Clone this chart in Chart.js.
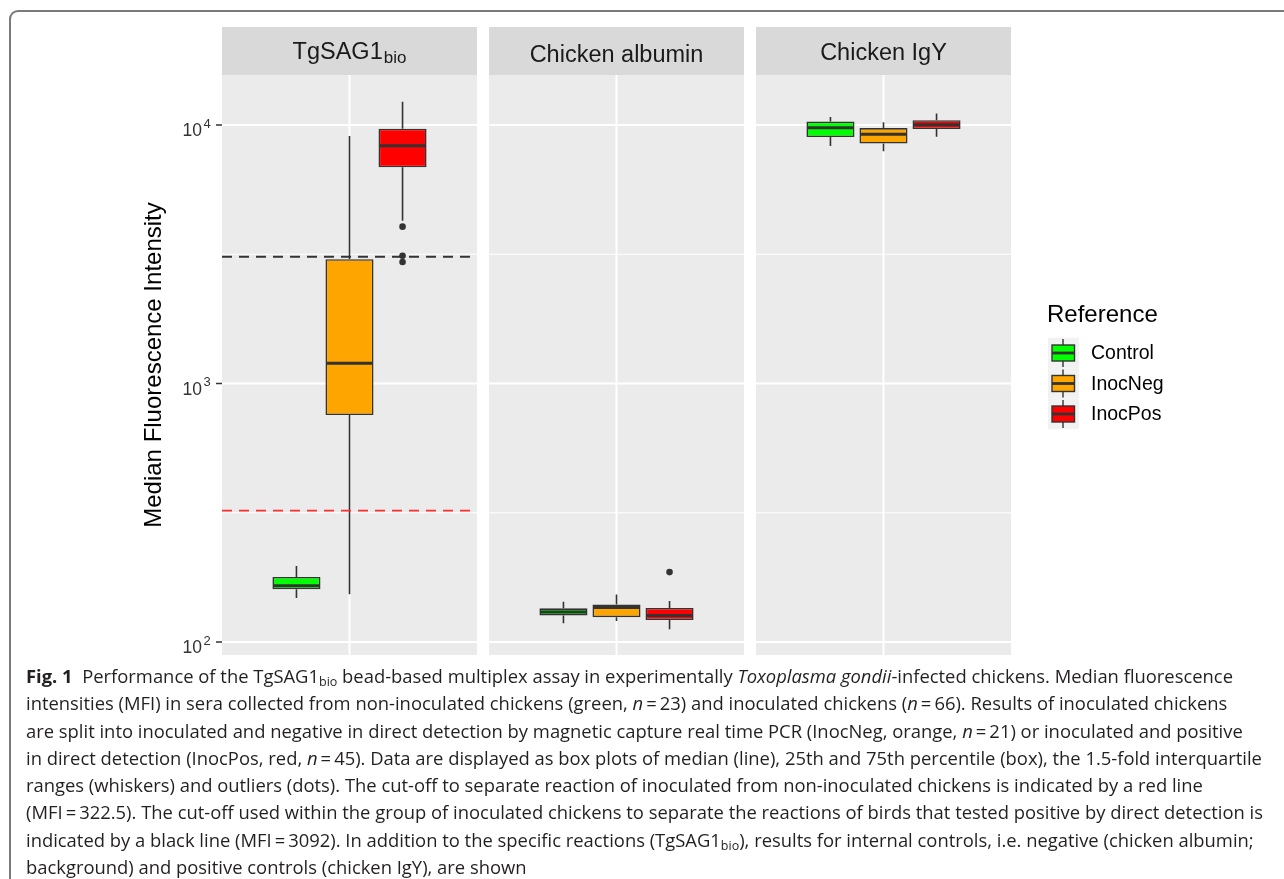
<!DOCTYPE html>
<html>
<head>
<meta charset="utf-8">
<script src="https://cdn.jsdelivr.net/npm/chart.js@4.4.1/dist/chart.umd.min.js"></script>
<style>
  html, body { margin: 0; padding: 0; background: #fff; }
  body { width: 1284px; height: 879px; position: relative; overflow: hidden; }
  #frame {
    position: absolute; left: 9px; top: 10px; width: 1300px; height: 900px;
    border-top: 2px solid #7a7a7a; border-left: 2px solid #7a7a7a;
    border-top-left-radius: 9px;
  }
  #wrap { position: absolute; left: 0; top: 0; width: 1284px; height: 665px; }
  #caption {
    position: absolute; left: 26px; top: 662px;
    font-family: "Open Sans", "Noto Sans", sans-serif; font-size: 18.4px; line-height: 27.3px;
    color: #231f20; white-space: nowrap;
  }
  #caption sub { font-size: 12.5px; vertical-align: -3px; line-height: 0; }
  #caption b { font-weight: 700; }
</style>
</head>
<body>
<div id="frame"></div>
<div id="wrap"><canvas id="chart" width="1284" height="665"></canvas></div>
<div id="caption">
  <div><b>Fig. 1</b>&nbsp;&nbsp;Performance of the TgSAG1<sub>bio</sub> bead-based multiplex assay in experimentally <i>Toxoplasma gondii</i>-infected chickens. Median fluorescence</div>
  <div>intensities (MFI) in sera collected from non-inoculated chickens (green, <i>n</i>&thinsp;=&thinsp;23) and inoculated chickens (<i>n</i>&thinsp;=&thinsp;66). Results of inoculated chickens</div>
  <div>are split into inoculated and negative in direct detection by magnetic capture real time PCR (InocNeg, orange, <i>n</i>&thinsp;=&thinsp;21) or inoculated and positive</div>
  <div>in direct detection (InocPos, red, <i>n</i>&thinsp;=&thinsp;45). Data are displayed as box plots of median (line), 25th and 75th percentile (box), the 1.5-fold interquartile</div>
  <div>ranges (whiskers) and outliers (dots). The cut-off to separate reaction of inoculated from non-inoculated chickens is indicated by a red line</div>
  <div>(MFI&thinsp;=&thinsp;322.5). The cut-off used within the group of inoculated chickens to separate the reactions of birds that tested positive by direct detection is</div>
  <div>indicated by a black line (MFI&thinsp;=&thinsp;3092). In addition to the specific reactions (TgSAG1<sub>bio</sub>), results for internal controls, i.e. negative (chicken albumin;</div>
  <div>background) and positive controls (chicken IgY), are shown</div>
</div>
<script>
// facets and groups
const facets = ['TgSAG1', 'Chicken albumin', 'Chicken IgY'];
const facetSubs = ['bio', '', ''];
const groups = ['Control', 'InocNeg', 'InocPos'];
const groupColors = ['#00ff00', '#ffa500', '#ff0000'];

// [lower whisker, Q1, median, Q3, upper whisker] per facet
const controlStats = [[148, 160, 165, 178.5, 197], [118.3, 126.6, 130.6, 135, 143.2], [8294, 8987, 9758, 10307, 10730]];
const inocNegStats = [[153, 755, 1197, 3024, 9066], [120.6, 124.7, 136, 139.7, 152.7], [7917, 8472, 9205, 9728, 10248]];
const inocPosStats = [[4262, 6860, 8314, 9676, 12310], [112, 121.6, 126.6, 135.5, 144.1], [9010, 9639, 10030, 10437, 11066]];

const controlOutliers = [[], [], []];
const inocNegOutliers = [[], [], []];
const inocPosOutliers = [[4043, 3121, 2951], [186.4], []];

// cut-offs drawn in the first facet
const cutoffValues = [3092, 322.5];
const cutoffColors = ['#333333', '#ff2e2e'];

const yTicks = [100, 1000, 10000];
const yMinorTicks = [316.2, 3162];
const yTitle = 'Median Fluorescence Intensity';
const legendTitle = 'Reference';

const allStats = [controlStats, inocNegStats, inocPosStats];
const allOutliers = [controlOutliers, inocNegOutliers, inocPosOutliers];

const stripTop = 27;
const panelGap = 12;
const ink = '#333333';
const font = 'Liberation Sans, Arial, sans-serif';

function panelHalf(x) {
    return (x.width / facets.length - panelGap) / 2;
}

const facetPlugin = {
    id: 'facets',
    beforeDatasetsDraw(chart) {
        const { ctx, chartArea: a, scales: { x, y } } = chart;
        const half = panelHalf(x);
        ctx.save();
        facets.forEach((f, i) => {
            const cx = x.getPixelForValue(i);
            ctx.fillStyle = '#d9d9d9';
            ctx.fillRect(cx - half, stripTop, 2 * half, a.top - stripTop);
            ctx.fillStyle = '#ebebeb';
            ctx.fillRect(cx - half, a.top, 2 * half, a.bottom - a.top);

            ctx.strokeStyle = '#ffffff';
            ctx.lineWidth = 1;
            yMinorTicks.forEach(v => {
                const py = y.getPixelForValue(v);
                ctx.beginPath(); ctx.moveTo(cx - half, py); ctx.lineTo(cx + half, py); ctx.stroke();
            });
            ctx.lineWidth = 2;
            yTicks.forEach(v => {
                const py = y.getPixelForValue(v);
                ctx.beginPath(); ctx.moveTo(cx - half, py); ctx.lineTo(cx + half, py); ctx.stroke();
            });
            ctx.beginPath(); ctx.moveTo(cx, a.top); ctx.lineTo(cx, a.bottom); ctx.stroke();
        });

        // whiskers behind the boxes
        ctx.strokeStyle = ink;
        ctx.lineWidth = 1.6;
        allStats.forEach((stats, d) => {
            const meta = chart.getDatasetMeta(d);
            stats.forEach((s, i) => {
                const bx = meta.data[i].x;
                ctx.beginPath();
                ctx.moveTo(bx, y.getPixelForValue(s[0])); ctx.lineTo(bx, y.getPixelForValue(s[1]));
                ctx.moveTo(bx, y.getPixelForValue(s[3])); ctx.lineTo(bx, y.getPixelForValue(s[4]));
                ctx.stroke();
            });
        });
        ctx.restore();
    },
    afterDatasetsDraw(chart) {
        const { ctx, chartArea: a, scales: { x, y } } = chart;
        const half = panelHalf(x);
        ctx.save();

        // medians and outliers
        allStats.forEach((stats, d) => {
            const meta = chart.getDatasetMeta(d);
            stats.forEach((s, i) => {
                const el = meta.data[i];
                const py = y.getPixelForValue(s[2]);
                ctx.strokeStyle = ink;
                ctx.lineWidth = 3;
                ctx.beginPath(); ctx.moveTo(el.x - el.width / 2 + 0.6, py); ctx.lineTo(el.x + el.width / 2 - 0.6, py); ctx.stroke();
                ctx.fillStyle = ink;
                allOutliers[d][i].forEach(v => {
                    ctx.beginPath(); ctx.arc(el.x, y.getPixelForValue(v), 3.3, 0, Math.PI * 2); ctx.fill();
                });
            });
        });

        // cut-off lines in first facet
        const c0 = x.getPixelForValue(0);
        ctx.lineWidth = 1.8;
        ctx.setLineDash([10, 7]);
        cutoffValues.forEach((v, k) => {
            const py = y.getPixelForValue(v);
            ctx.strokeStyle = cutoffColors[k];
            ctx.beginPath(); ctx.moveTo(c0 - half, py); ctx.lineTo(c0 + half, py); ctx.stroke();
        });
        ctx.setLineDash([]);

        // strip labels
        ctx.fillStyle = '#1a1a1a';
        facets.forEach((f, i) => {
            const cx = x.getPixelForValue(i);
            ctx.font = '23.5px ' + font;
            if (facetSubs[i]) {
                const w1 = ctx.measureText(f).width;
                ctx.font = '17px ' + font;
                const w2 = ctx.measureText(facetSubs[i]).width;
                const left = cx - (w1 + w2 + 1) / 2;
                ctx.textAlign = 'left';
                ctx.fillText(facetSubs[i], left + w1 + 1, 63);
                ctx.font = '23.5px ' + font;
                ctx.fillText(f, left, 59);
            } else {
                ctx.textAlign = 'center';
                ctx.fillText(f, cx, i === 1 ? 61.5 : 59.5);
            }
        });

        // y axis ticks and labels
        const left = c0 - half;
        ctx.strokeStyle = ink;
        ctx.lineWidth = 1.5;
        yTicks.forEach(v => {
            const py = y.getPixelForValue(v);
            ctx.beginPath(); ctx.moveTo(left - 6, py); ctx.lineTo(left, py); ctx.stroke();
            ctx.fillStyle = ink;
            ctx.font = '17.5px ' + font;
            ctx.textAlign = 'right';
            ctx.fillText('10', 202, py + 11);
            ctx.font = '13px ' + font;
            ctx.textAlign = 'left';
            ctx.fillText(String(Math.round(Math.log10(v))), 203.5, py + 2.8);
        });

        // y axis title
        ctx.fillStyle = '#000000';
        ctx.font = '24px ' + font;
        ctx.textAlign = 'center';
        ctx.translate(160.5, (a.top + a.bottom) / 2);
        ctx.rotate(-Math.PI / 2);
        ctx.fillText(yTitle, 0, 0);
        ctx.restore();

        // legend
        ctx.save();
        ctx.fillStyle = '#000000';
        ctx.font = '24px ' + font;
        ctx.textAlign = 'left';
        ctx.fillText(legendTitle, 1047, 322);
        groups.forEach((g, i) => {
            const cy = 353 + 30.5 * i;
            ctx.fillStyle = '#f2f2f2';
            ctx.fillRect(1048, cy - 15.25, 31, 30.5);
            ctx.strokeStyle = ink;
            ctx.lineWidth = 1.4;
            ctx.beginPath(); ctx.moveTo(1063, cy - 14); ctx.lineTo(1063, cy + 14); ctx.stroke();
            ctx.fillStyle = groupColors[i];
            ctx.fillRect(1052, cy - 8, 22.5, 16);
            ctx.strokeRect(1052, cy - 8, 22.5, 16);
            ctx.lineWidth = 2.8;
            ctx.beginPath(); ctx.moveTo(1052, cy); ctx.lineTo(1074.5, cy); ctx.stroke();
            ctx.fillStyle = '#000000';
            ctx.font = '19.5px ' + font;
            ctx.textBaseline = 'middle';
            ctx.fillText(g, 1091, cy + 1);
            ctx.textBaseline = 'alphabetic';
        });
        ctx.restore();
    }
};

const chart = new Chart(document.getElementById('chart').getContext('2d'), {
    type: 'bar',
    data: {
        labels: facets,
        datasets: groups.map((g, d) => ({
            label: g,
            data: allStats[d].map(s => [s[1], s[3]]),
            backgroundColor: groupColors[d],
            borderColor: ink,
            borderWidth: 1.6,
            borderSkipped: false,
            categoryPercentage: 0.596,
            barPercentage: 0.906
        }))
    },
    options: {
        responsive: false,
        animation: false,
        devicePixelRatio: 1,
        layout: { padding: { left: 216, right: 267, top: 75, bottom: 10 } },
        plugins: { legend: { display: false }, tooltip: { enabled: false } },
        scales: {
            x: { display: false, grid: { display: false } },
            y: { type: 'logarithmic', display: false, min: 89.07, max: 15610 }
        }
    },
    plugins: [facetPlugin]
});
</script>
</body>
</html>
